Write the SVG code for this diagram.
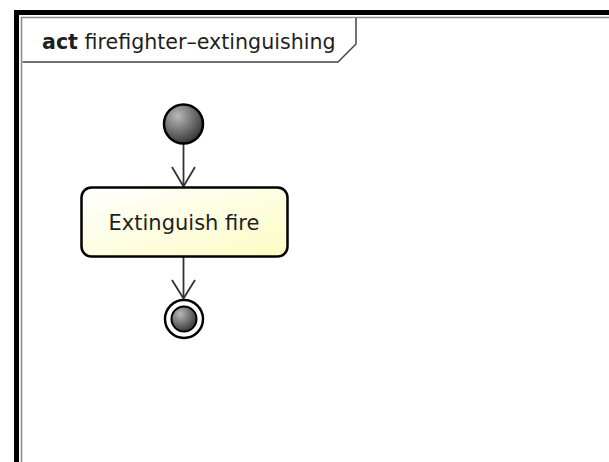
<svg xmlns="http://www.w3.org/2000/svg" width="609" height="462" viewBox="0 0 609 462">
  <style>
    .txt { font-family: "DejaVu Sans", "Liberation Sans", sans-serif; fill: #1e1e1e; }
    .flow { stroke: #333; stroke-width: 1.8; fill: none; }
    .head { stroke: #333; stroke-width: 1.8; fill: none; stroke-linejoin: miter; }
  </style>
  <defs>
    <linearGradient id="nodeFill" x1="0" y1="0" x2="1" y2="1">
      <stop offset="0" stop-color="#ffffff"/>
      <stop offset="1" stop-color="#fcfcc4"/>
    </linearGradient>
    <radialGradient id="dotFill" cx="0.35" cy="0.3" r="0.8">
      <stop offset="0" stop-color="#b8b8b8"/>
      <stop offset="1" stop-color="#2a2a2a"/>
    </radialGradient>
  </defs>

  <rect width="609" height="462" fill="#ffffff"/>

  <!-- activity frame -->
  <g id="frame">
    <rect x="16.5" y="12.5" width="620" height="480" fill="none" stroke="#000" stroke-width="5"/>
    <rect x="21.5" y="17.5" width="610" height="470" fill="none" stroke="#8a8a8a" stroke-width="1.5"/>
    <path d="M22.5 62 H338 L356 44 V18" fill="#fff" stroke="#444" stroke-width="1.5"/>
    <text class="txt" x="42" y="49" font-size="20.6"><tspan font-weight="bold">act</tspan> firefighter–extinguishing</text>
  </g>

  <!-- connectors -->
  <g id="connectors">
    <line class="flow" x1="183.5" y1="144" x2="183.5" y2="186"/>
    <polyline class="head" points="172,167 183.5,186.5 195,167"/>
    <line class="flow" x1="183.5" y1="257" x2="183.5" y2="298"/>
    <polyline class="head" points="172,280 183.5,298.5 195,280"/>
  </g>

  <g id="start">
    <circle cx="183.5" cy="124" r="19.5" fill="url(#dotFill)" stroke="#000" stroke-width="2.5"/>
  </g>

  <g id="extinguish-fire">
    <rect x="81.5" y="187.5" width="206" height="69" rx="10" fill="url(#nodeFill)" stroke="#000" stroke-width="2.5"/>
    <text class="txt" x="184" y="230" font-size="21" text-anchor="middle">Extinguish fire</text>
  </g>

  <g id="end">
    <circle cx="184" cy="319" r="19" fill="#fff" stroke="#000" stroke-width="2.5"/>
    <circle cx="184" cy="319" r="12.5" fill="url(#dotFill)" stroke="#000" stroke-width="2"/>
  </g>
</svg>
